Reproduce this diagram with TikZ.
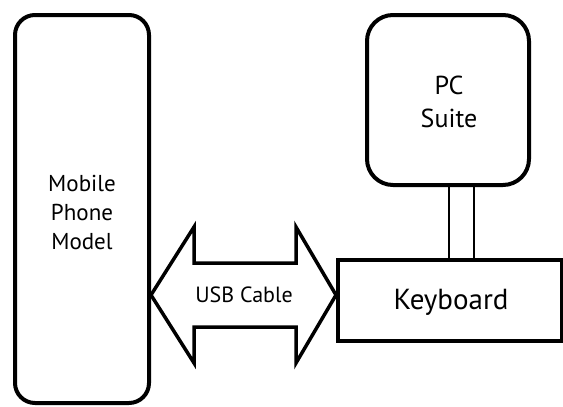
\documentclass[tikz,border=0pt]{standalone}
\usepackage{fontspec}
\setmainfont{PT Sans}
\usetikzlibrary{calc}
\begin{document}
\begin{tikzpicture}[x=1pt,y=-1pt,
  box/.style={draw=black,line width=4pt,fill=white,inner sep=0pt,align=center},
  lbl/.style={font=\fontsize{23}{29}\selectfont,align=center},
  link/.style={draw=black,line width=1.5pt},
  bigarrow/.style={draw=black,line width=3.5pt,line join=miter,fill=white}]
\useasboundingbox (0,0) rectangle (563,407);
\node[box,rounded corners=20pt,minimum width=134pt,minimum height=388pt] (phone) at (82,209) {};
\node[lbl] (phonetxt) at (82,212) {Mobile\\Phone\\Model};
\node[box,rounded corners=26pt,minimum width=162pt,minimum height=170pt] (pc) at (448,100) {};
\node[lbl,font=\fontsize{26}{33}\selectfont] (pctxt) at (449,102) {PC\\Suite};
\node[box,minimum width=224pt,minimum height=81pt] (kb) at (450,300.5) {};
\node[font=\fontsize{29}{32}\selectfont] (kbtxt) at (451,302) {Keyboard};
\coordinate (l1) at (449,0);
\coordinate (l2) at (474,0);
\draw[link] (l1 |- pc.south) -- (l1 |- kb.north);
\draw[link] (l2 |- pc.south) -- (l2 |- kb.north);
\coordinate (ay) at (0,295);
\coordinate (tipL) at (phone.east |- ay);
\coordinate (tipR) at (kb.west |- ay);
\draw[bigarrow] (tipL) -- (194,227) -- (194,263) -- (296,263) -- (296,227) -- (tipR)
  -- (296,363) -- (296,327) -- (194,327) -- (194,363) -- cycle;
\node[font=\fontsize{22}{26}\selectfont] (usb) at (244,295) {USB Cable};
\end{tikzpicture}
\end{document}
